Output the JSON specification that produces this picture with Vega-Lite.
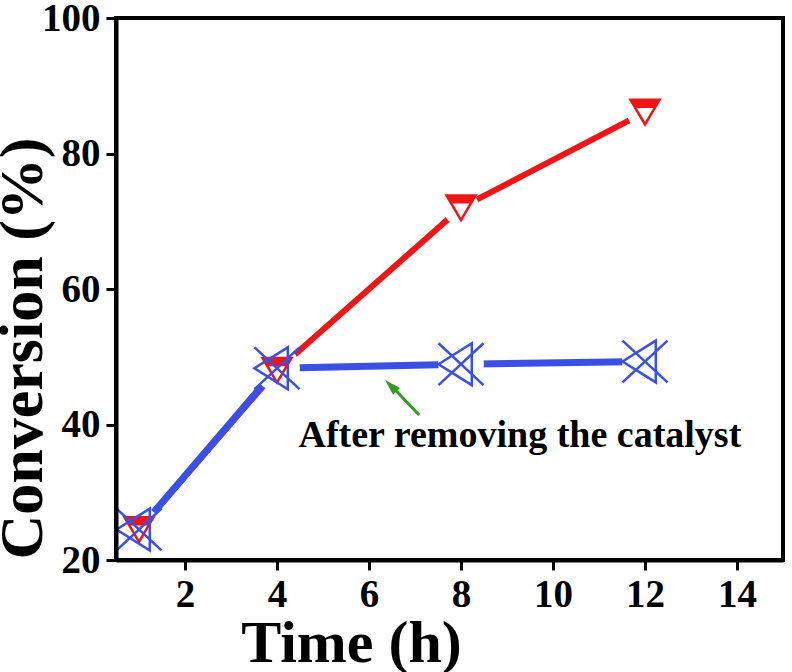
{
  "$schema": "https://vega.github.io/schema/vega-lite/v6.json",
  "width": 667,
  "height": 542,
  "autosize": "none",
  "padding": {"left": 116, "top": 18, "right": 9, "bottom": 112},
  "background": "white",
  "config": {
    "view": {"stroke": "black", "strokeWidth": 4},
    "font": "Liberation Serif"
  },
  "datasets": {
    "pts": [
      {"time": 1, "conv": 24.5, "series": "fresh"},
      {"time": 4, "conv": 48.0, "series": "fresh"},
      {"time": 8, "conv": 72.0, "series": "fresh"},
      {"time": 12, "conv": 86.1, "series": "fresh"},
      {"time": 1, "conv": 24.5, "series": "removed"},
      {"time": 4, "conv": 48.3, "series": "removed"},
      {"time": 8, "conv": 48.9, "series": "removed"},
      {"time": 12, "conv": 49.3, "series": "removed"}
    ],
    "arrow": [
      {"x1": 7.09, "y1": 41.4, "x2": 6.5, "y2": 45.6, "tx": 6.35, "ty": 46.57}
    ],
    "note": [
      {"tx": 9.28, "ty": 36.7, "label": "After removing the catalyst"}
    ]
  },
  "encoding": {
    "x": {
      "field": "time", "type": "quantitative",
      "scale": {"domain": [0.5, 15], "nice": false, "zero": false},
      "axis": {
        "title": "Time (h)", "values": [2, 4, 6, 8, 10, 12, 14],
        "grid": false, "domainColor": "black", "domainWidth": 4,
        "tickColor": "black", "tickWidth": 3, "tickSize": 10,
        "labelFont": "Liberation Serif", "labelFontWeight": "bold", "labelFontSize": 39,
        "labelColor": "black", "labelPadding": 5,
        "titleFont": "Liberation Serif", "titleFontWeight": "bold", "titleFontSize": 60,
        "titleColor": "black", "titleX": 235, "titleY": 101, "titleBaseline": "alphabetic", "titleAlign": "center",
        "zindex": 1
      }
    },
    "y": {
      "field": "conv", "type": "quantitative",
      "scale": {"domain": [20, 100], "nice": false, "zero": false},
      "axis": {
        "title": "Conversion (%)", "values": [20, 40, 60, 80, 100],
        "grid": false, "domainColor": "black", "domainWidth": 4,
        "tickColor": "black", "tickWidth": 3, "tickSize": 10,
        "labelFont": "Liberation Serif", "labelFontWeight": "bold", "labelFontSize": 39,
        "labelColor": "black", "labelPadding": 6,
        "titleFont": "Liberation Serif", "titleFontWeight": "bold", "titleFontSize": 62,
        "titleColor": "black", "titleX": -94, "titleY": 330, "titleBaseline": "middle", "titleAlign": "center", "titleAngle": 270,
        "zindex": 1
      }
    }
  },
  "layer": [
    {
      "data": {"name": "pts"},
      "transform": [{"filter": "datum.series === 'fresh'"}],
      "mark": {"type": "line", "color": "#f01414", "strokeWidth": 6}
    },
    {
      "data": {"name": "pts"},
      "transform": [{"filter": "datum.series === 'removed'"}],
      "mark": {"type": "line", "color": "#3a4fe6", "strokeWidth": 7}
    },
    {
      "data": {"name": "pts"},
      "transform": [{"filter": "datum.series === 'fresh' && datum.time >= 8"}],
      "mark": {"type": "point", "shape": "circle", "filled": true, "color": "white", "opacity": 1, "size": 1300}
    },
    {
      "data": {"name": "pts"},
      "transform": [{"filter": "datum.series === 'removed'"}],
      "mark": {"type": "point", "shape": "circle", "filled": true, "color": "white", "opacity": 1, "size": 2100}
    },
    {
      "data": {"name": "pts"},
      "transform": [{"filter": "datum.series === 'fresh'"}],
      "mark": {"type": "point", "shape": "M-1,-0.85L1,-0.85L0.667,-0.283L-0.667,-0.283Z", "filled": true, "color": "#f01414", "opacity": 1, "size": 841, "strokeWidth": 0}
    },
    {
      "data": {"name": "pts"},
      "transform": [{"filter": "datum.series === 'fresh'"}],
      "mark": {"type": "point", "shape": "M-1,-0.85L1,-0.85L0,0.85Z", "filled": false, "stroke": "#f01414", "opacity": 1, "size": 841, "strokeWidth": 2.5}
    },
    {
      "data": {"name": "pts"},
      "transform": [{"filter": "datum.series === 'removed'"}],
      "mark": {"type": "point", "shape": "M-1,-0.93L1,0.93M-1,0.93L1,-0.93M-1,0L0.48,-0.93L0.48,0.93Z", "filled": false, "stroke": "#3a4fe6", "opacity": 1, "size": 2025, "strokeWidth": 2.5}
    },
    {
      "data": {"name": "arrow"},
      "mark": {"type": "rule", "color": "#2ca01c", "strokeWidth": 3},
      "encoding": {
        "x": {"field": "x1", "type": "quantitative"},
        "y": {"field": "y1", "type": "quantitative"},
        "x2": {"field": "x2"},
        "y2": {"field": "y2"}
      }
    },
    {
      "data": {"name": "arrow"},
      "mark": {"type": "point", "shape": "M0,0L0.6,2L-0.6,2Z", "filled": true, "color": "#2ca01c", "opacity": 1, "size": 256, "angle": -45, "strokeWidth": 0},
      "encoding": {
        "x": {"field": "tx", "type": "quantitative"},
        "y": {"field": "ty", "type": "quantitative"}
      }
    },
    {
      "data": {"name": "note"},
      "mark": {"type": "text", "font": "Liberation Serif", "fontWeight": "bold", "fontSize": 38, "color": "black", "align": "center", "baseline": "alphabetic"},
      "encoding": {
        "x": {"field": "tx", "type": "quantitative"},
        "y": {"field": "ty", "type": "quantitative"},
        "text": {"field": "label"}
      }
    }
  ]
}
